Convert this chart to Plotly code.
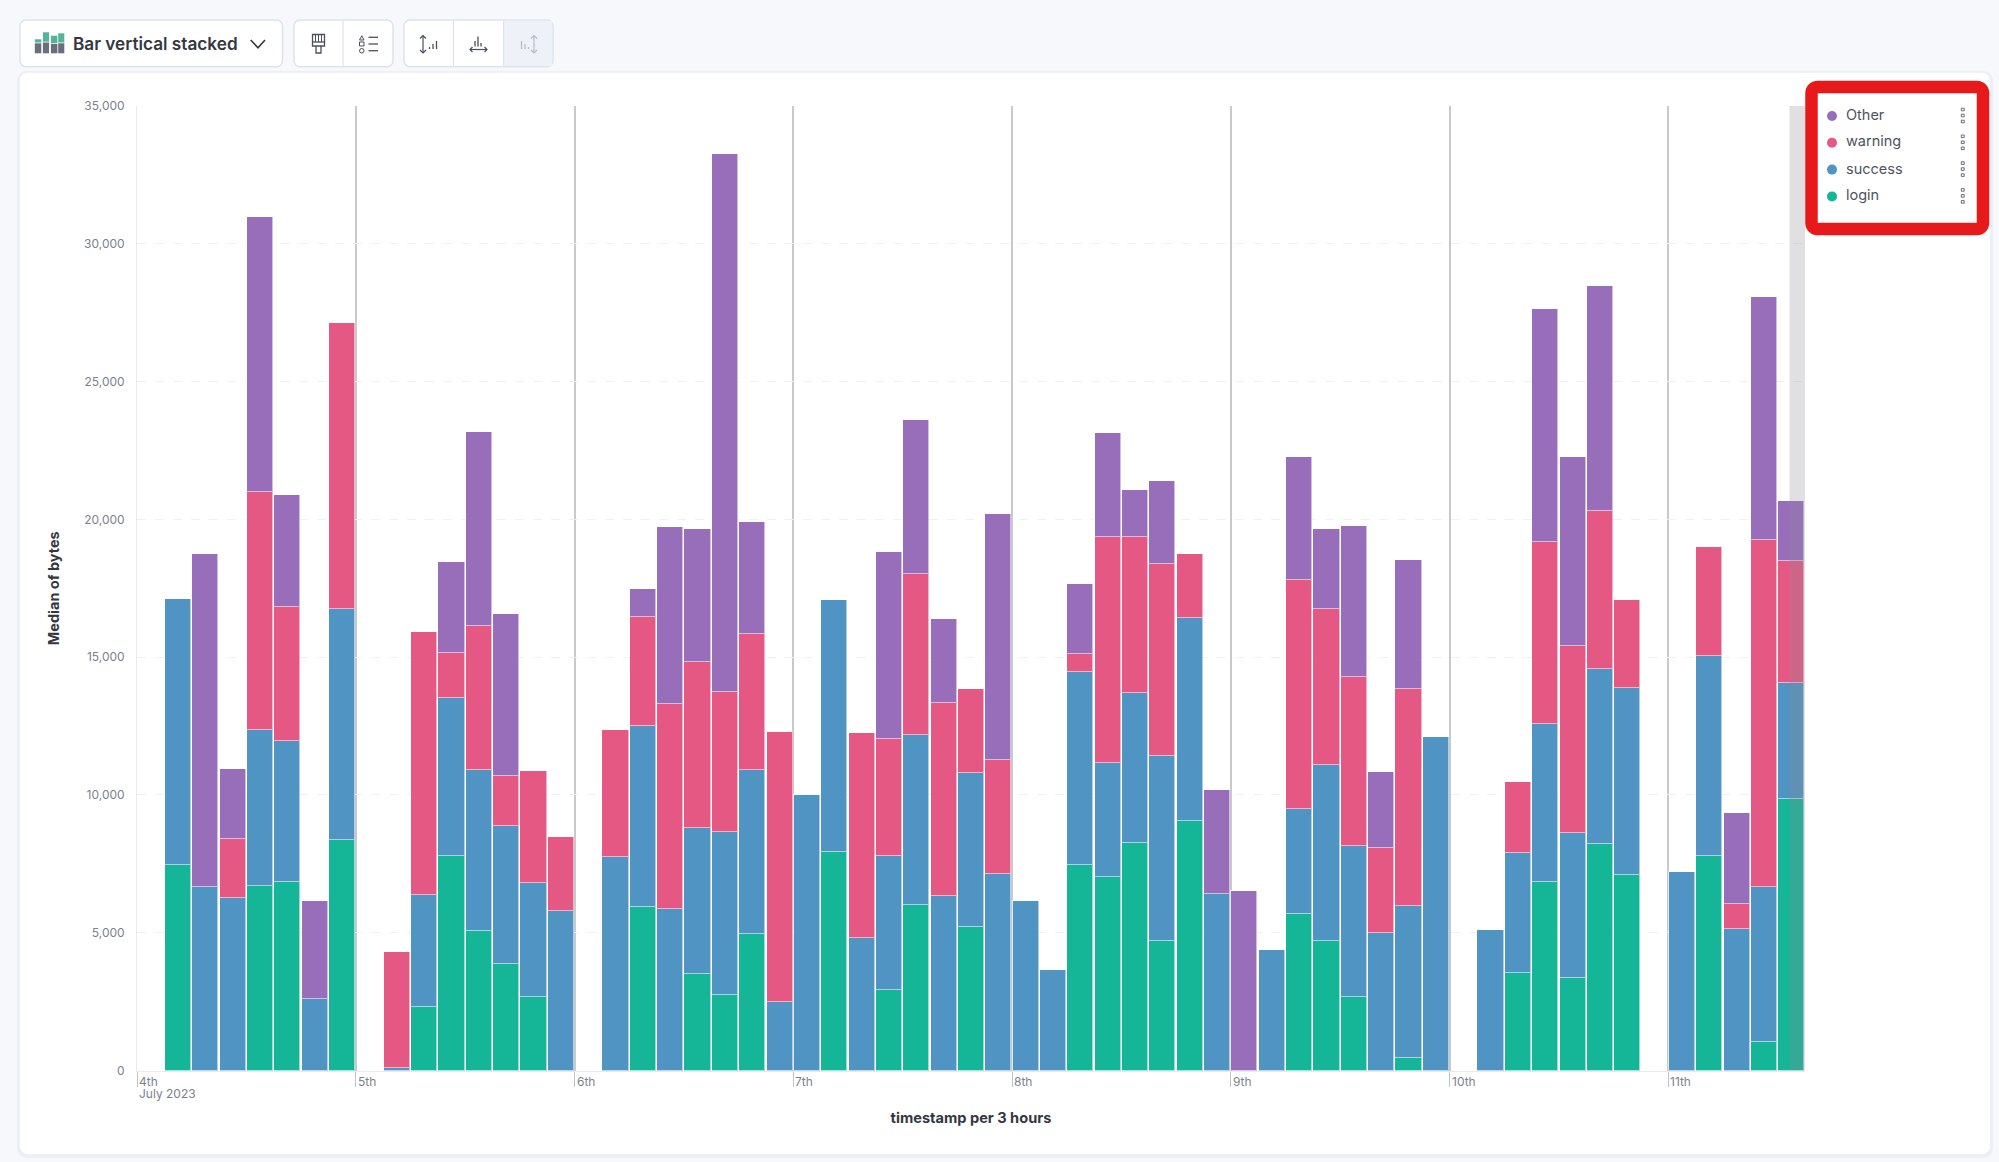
"""Kibana Lens style stacked bars: median of bytes per 3 hours, by tag."""

import pandas as pd
import plotly.graph_objects as go

W, H = 1999, 1162
PLOT_LEFT, PLOT_RIGHT, PLOT_TOP, PLOT_BOTTOM = 137, 1805, 106, 1070.5

FONT = 'Inter'
TEXT_DARK = '#343741'
TEXT_TICK = '#7c818c'

# one value per 3 hour bucket, eight buckets a day, starting 4 July 00:00
LOGIN = [
    None, 7460, None, None, 6710, 6850, None, 8370,
    None, None, 2290, 7800, 5080, 3880, 2650, None,
    None, None, 5940, None, 3490, 2740, 4945, None,
    None, 7940, None, 2925, 5990, None, 5215, None,
    None, None, 7460, 7030, 8255, 4695, 9050, None,
    None, None, 5690, 4695, 2650, None, 450, None,
    None, None, 3540, 6830, 3360, 8230, 7100, None,
    None, 7780, None, 1040, 9865,
]
SUCCESS = [
    None, 9665, 6670, 6260, 5630, 5100, 2610, 8390,
    None, 90, 4080, 5720, 5810, 5010, 4150, 5800,
    None, 7730, 6560, 5850, 5310, 5900, 5965, 2495,
    9980, 9140, 4810, 4855, 6190, 6330, 5585, 7145,
    6145, 3630, 7010, 4130, 5445, 6715, 7370, 6400,
    None, 4380, 3790, 6395, 5515, 4990, 5515, 12110,
    None, 5100, 4350, 5760, 5260, 6350, 6780, None,
    7190, 7260, 5125, 5630, 4195,
]
WARNING = [
    None, None, None, 2155, 8640, 4880, None, 10365,
    None, 4200, 9530, 1630, 5235, 1790, 4060, 2680,
    None, 4610, 3965, 7460, 6010, 5080, 4920, 9795,
    None, None, 7440, 4240, 5850, 7010, 3060, 4125,
    None, None, 630, 8210, 5670, 6980, 2310, None,
    None, None, 8320, 5670, 6125, 3085, 7870, None,
    None, None, 2590, 6600, 6780, 5740, 3200, None,
    None, 3940, 930, 12585, 4420,
]
OTHER = [
    None, None, 12065, 2540, 9980, 4060, 3540, None,
    None, None, None, 3290, 7030, 5900, None, None,
    None, None, 995, 6400, 4850, 19550, 4060, None,
    None, None, None, 6780, 5560, 3035, None, 8915,
    None, None, 2545, 3760, 1700, 3000, None, 3780,
    6510, None, 4470, 2900, 5460, 2745, 4695, None,
    None, None, None, 8460, 6850, 8140, None, None,
    None, None, 3290, 8825, 2200,
]

SERIES_NAMES = ['login', 'success', 'warning', 'Other']
SERIES_COLORS = ['#15b697', '#5094c4', '#e55884', '#986ebb']
SERIES_VALUES = [LOGIN, SUCCESS, WARNING, OTHER]
LEGEND_NAMES = ['Other', 'warning', 'success', 'login']

DAY_TICKS = ['2023-07-%02d' % d for d in range(4, 12)]
DAY_LABELS = ['4th', '5th', '6th', '7th', '8th', '9th', '10th', '11th']
Y_TICKS = [0, 5000, 10000, 15000, 20000, 25000, 30000, 35000]

X_START = '2023-07-04 00:00'
X_END = '2023-07-11 15:00'
PARTIAL_START = '2023-07-11 13:18'
BUCKET_MS = 3 * 3600 * 1000


def px(x):
    return x / W


def py(y):
    return 1 - y / H


def round_rect(x0, y0, x1, y1, r):
    """SVG path in paper coordinates for a rounded rectangle given in pixels."""
    k = r * 0.45
    pts = [
        ('M', [(x0 + r, y0)]), ('L', [(x1 - r, y0)]),
        ('C', [(x1 - k, y0), (x1, y0 + k), (x1, y0 + r)]), ('L', [(x1, y1 - r)]),
        ('C', [(x1, y1 - k), (x1 - k, y1), (x1 - r, y1)]), ('L', [(x0 + r, y1)]),
        ('C', [(x0 + k, y1), (x0, y1 - k), (x0, y1 - r)]), ('L', [(x0, y0 + r)]),
        ('C', [(x0, y0 + k), (x0 + k, y0), (x0 + r, y0)]),
    ]
    out = ''
    for cmd, coords in pts:
        out += cmd + ' '.join('%.5f,%.5f' % (px(a), py(b)) for a, b in coords) + ' '
    return out + 'Z'


def poly(points, closed=False):
    path = 'M' + ' L'.join('%.5f,%.5f' % (px(a), py(b)) for a, b in points)
    return path + (' Z' if closed else '')


def paper_shape(path, fill=None, line=None, width=1, layer='above'):
    return dict(
        type='path', path=path, xref='paper', yref='paper', layer=layer,
        fillcolor=fill or 'rgba(0,0,0,0)',
        line=dict(color=line or 'rgba(0,0,0,0)', width=width if line else 0),
    )


def box(x0, y0, x1, y1, fill=None, line=None, width=1, layer='above'):
    return paper_shape(poly([(x0, y0), (x1, y0), (x1, y1), (x0, y1)], True), fill, line, width, layer)


def toolbar_shapes():
    shapes = []
    border = '#dde3ee'
    ink = '#4a4f5c'
    pale = '#b4bbc8'

    # buttons
    shapes.append(paper_shape(round_rect(20, 20, 282.5, 66.7, 6), '#ffffff', border, 1.5))
    shapes.append(paper_shape(round_rect(294, 20, 393, 66.7, 6), '#ffffff', border, 1.5))
    shapes.append(paper_shape(round_rect(404, 20, 553, 66.7, 6), '#ffffff', border, 1.5))
    shapes.append(box(503.6, 21, 552, 65.9, '#eef1f8'))
    for x in [343, 453.5, 503.6]:
        shapes.append(paper_shape(poly([(x, 20.5), (x, 66.2)]), None, border, 1.2))

    # chart type icon
    dark = '#6a6f7c'
    green = '#54b399'
    for x0, x1, top, split in [(34.8, 41.3, 39.3, 43.3), (42.9, 49, 32.3, 42.5),
                               (50.9, 57.4, 35.7, 43.8), (58.2, 64.3, 33.3, 43.3)]:
        shapes.append(box(x0, top, x1, split - 0.8, green))
        shapes.append(box(x0, split, x1, 53.3, dark))

    # chevron
    shapes.append(paper_shape(poly([(250.7, 40), (258, 47.7), (265, 40)]), None, TEXT_DARK, 1.6))

    # brush
    shapes.append(box(312.5, 34.5, 324.5, 46, None, ink, 1.3))
    shapes.append(paper_shape(poly([(312.5, 42), (324.5, 42)]), None, ink, 1.3))
    for x in [315.5, 318.5, 321.5]:
        shapes.append(paper_shape(poly([(x, 34.5), (x, 42)]), None, ink, 1))
    shapes.append(paper_shape(poly([(316, 46), (316, 53), (321, 53), (321, 46)]), None, ink, 1.3))

    # legend icon
    shapes.append(paper_shape(poly([(359.5, 40), (361.8, 35.8), (364, 40)], True), None, ink, 1))
    shapes.append(box(359.5, 42, 364, 46, None, ink, 1))
    shapes.append(dict(type='circle', xref='paper', yref='paper', x0=px(359.5), x1=px(364),
                       y0=py(48.5), y1=py(53), line=dict(color=ink, width=1)))
    for y in [37.3, 44, 50.7]:
        shapes.append(paper_shape(poly([(368.5, y), (378, y)]), None, ink, 1.3))

    # left axis icon
    shapes.append(paper_shape(poly([(423, 35.5), (423, 53)]), None, ink, 1.2))
    shapes.append(paper_shape(poly([(420, 38.5), (423, 35.5), (426, 38.5)]), None, ink, 1.2))
    shapes.append(paper_shape(poly([(420, 50), (423, 53), (426, 50)]), None, ink, 1.2))
    for x, top in [(429.5, 47), (433, 44), (436.5, 41)]:
        shapes.append(paper_shape(poly([(x, top), (x, 49)]), None, ink, 1.3))

    # bottom axis icon
    shapes.append(paper_shape(poly([(470, 49.5), (487, 49.5)]), None, ink, 1.2))
    shapes.append(paper_shape(poly([(472.5, 47), (470, 49.5), (472.5, 52)]), None, ink, 1.2))
    shapes.append(paper_shape(poly([(484.5, 47), (487, 49.5), (484.5, 52)]), None, ink, 1.2))
    for x, top in [(475, 41), (478, 36.5), (481, 43)]:
        shapes.append(paper_shape(poly([(x, top), (x, 46.5)]), None, ink, 1.3))

    # right axis icon, disabled
    shapes.append(paper_shape(poly([(534, 35.5), (534, 53)]), None, pale, 1.2))
    shapes.append(paper_shape(poly([(531, 38.5), (534, 35.5), (537, 38.5)]), None, pale, 1.2))
    shapes.append(paper_shape(poly([(531, 50), (534, 53), (537, 50)]), None, pale, 1.2))
    for x, top in [(521.5, 41), (525, 44), (528.5, 47)]:
        shapes.append(paper_shape(poly([(x, top), (x, 49)]), None, pale, 1.3))
    return shapes


def legend_shapes():
    shapes = [paper_shape(round_rect(1811.5, 87, 1983, 229, 6), '#ffffff', '#e8191a', 12.5)]
    for i, name in enumerate(LEGEND_NAMES):
        y = 115.5 + i * 26.8
        color = SERIES_COLORS[SERIES_NAMES.index(name)]
        shapes.append(dict(type='circle', xref='paper', yref='paper',
                           x0=px(1827), x1=px(1837), y0=py(y - 4.5), y1=py(y + 5.5),
                           fillcolor=color, line=dict(width=0)))
        for dy in [-6, 0, 6]:
            shapes.append(box(1961.3, y + dy - 1.3, 1964.2, y + dy + 1.3, '#ffffff', '#5a5f6b', 0.9))
    return shapes


def legend_annotations():
    notes = []
    for i, name in enumerate(LEGEND_NAMES):
        notes.append(dict(
            text=name, xref='paper', yref='paper', x=px(1844), y=py(114.5 + i * 26.8),
            xanchor='left', yanchor='middle', showarrow=False,
            font=dict(family=FONT, size=14.5, color='#4f535e'),
        ))
    return notes


def day_annotations():
    notes = []
    for tick, label in zip(DAY_TICKS, DAY_LABELS):
        notes.append(dict(
            text=label, x=tick, xref='x', y=py(1081), yref='paper', xshift=0,
            xanchor='left', yanchor='middle', showarrow=False,
            font=dict(family=FONT, size=12, color=TEXT_TICK),
        ))
    notes.append(dict(
        text='July 2023', x=DAY_TICKS[0], xref='x', y=py(1093.5), yref='paper', xshift=0,
        xanchor='left', yanchor='middle', showarrow=False,
        font=dict(family=FONT, size=12, color=TEXT_TICK),
    ))
    return notes


buckets = pd.date_range(X_START, periods=len(LOGIN), freq='3h')

fig = go.Figure()
for name, color, values in zip(SERIES_NAMES, SERIES_COLORS, SERIES_VALUES):
    fig.add_trace(go.Bar(
        x=buckets, y=values, name=name,
        width=BUCKET_MS * 0.955, offset=BUCKET_MS * 0.022,
        marker=dict(color=color, line=dict(color='rgba(255,255,255,0.55)', width=1)),
        showlegend=False,
    ))

# panel behind everything, then the grey end-of-range band over the bars
shapes = [
    paper_shape(round_rect(17, 71, 1993, 1158, 10), '#eceff5', layer='below'),
    paper_shape(round_rect(20, 72.7, 1990, 1154, 8), '#ffffff', layer='below'),
]
shapes += toolbar_shapes() + legend_shapes()
shapes.append(dict(
    type='rect', xref='x', yref='y', x0=PARTIAL_START, x1=X_END,
    y0=0, y1=35000, fillcolor='rgb(138,138,150)', opacity=0.265,
    line=dict(width=0), layer='above',
))

annotations = day_annotations() + legend_annotations()
annotations.append(dict(
    text='Bar vertical stacked', xref='paper', yref='paper', x=px(70.5), y=py(43.5),
    xanchor='left', yanchor='middle', showarrow=False,
    font=dict(family=FONT, size=17.2, color=TEXT_DARK, weight=600),
))

fig.update_layout(
    width=W, height=H,
    margin=dict(l=0, r=0, t=0, b=0),
    paper_bgcolor='#f6f8fc',
    plot_bgcolor='rgba(0,0,0,0)',
    barmode='stack', bargap=0,
    shapes=shapes,
    annotations=annotations,
    font=dict(family=FONT),
    xaxis=dict(
        type='date', automargin=False,
        domain=[px(PLOT_LEFT), px(PLOT_RIGHT)],
        range=[X_START, X_END],
        tickmode='array', tickvals=DAY_TICKS, showticklabels=False,
        ticks='outside', ticklen=15, tickwidth=1, tickcolor='#bfc3ca',
        showgrid=True, gridcolor='#c8c9cc', gridwidth=1.6,
        showline=True, linecolor='#e6eaf2', linewidth=1,
        zeroline=False,
        title=dict(text='timestamp per 3 hours', standoff=27,
                   font=dict(family=FONT, size=14.6, color=TEXT_DARK, weight=700)),
    ),
    yaxis=dict(
        automargin=False,
        domain=[py(PLOT_BOTTOM), py(PLOT_TOP)],
        range=[0, 35000],
        tickmode='array', tickvals=Y_TICKS, tickformat=',',
        tickfont=dict(family=FONT, size=12, color=TEXT_TICK),
        ticks='', ticklabelstandoff=9,
        showgrid=True, gridcolor='#eef0f5', griddash='dash', gridwidth=1,
        showline=True, linecolor='#e6eaf2', linewidth=1,
        zeroline=False,
        title=dict(text='Median of bytes', standoff=20,
                   font=dict(family=FONT, size=14.5, color=TEXT_DARK, weight=700)),
    ),
)

# page margin off so the figure sits at the window corner, no modebar in the picture
fig.write_html("out.html", config={'displayModeBar': False},
               post_script="document.body.style.margin='0';")
